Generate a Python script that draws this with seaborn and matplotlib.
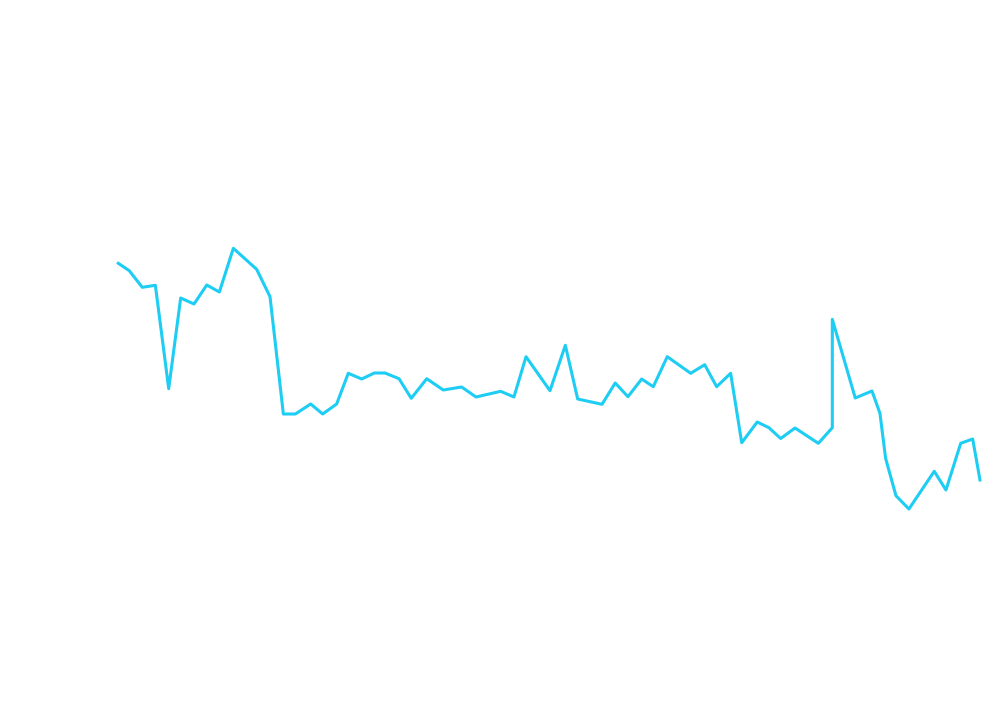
import numpy as np
import pandas as pd
from matplotlib import pyplot as plt
import seaborn as sns

# series (x = step index, y = value)
x = [0.0, 0.87, 1.90, 2.94, 4.00, 4.95, 6.01, 7.02, 8.02, 9.13,
     10.98, 12.04, 13.10, 14.05, 15.27, 16.22, 17.33, 18.25, 19.32, 20.32,
     21.17, 22.28, 23.25, 24.48, 25.79, 27.25, 28.39, 30.35, 31.40, 32.36,
     34.26, 35.48, 36.46, 38.39, 39.44, 40.45, 41.54, 42.46, 43.57, 45.43,
     46.54, 47.49, 48.60, 49.48, 50.71, 51.64, 52.57, 53.71, 55.56, 56.67,
     56.67, 58.49, 59.82, 60.45, 60.90, 61.72, 62.75, 64.76, 65.69, 66.86,
     67.81, 68.39]
y = [44.87, 44.13, 42.47, 42.67, 32.33, 41.40, 40.80, 42.70, 42.00, 46.37,
     44.27, 41.53, 29.80, 29.80, 30.80, 29.80, 30.80, 33.87, 33.30, 33.90,
     33.90, 33.33, 31.37, 33.33, 32.20, 32.50, 31.50, 32.07, 31.50, 35.53,
     32.13, 36.67, 31.30, 30.77, 32.90, 31.53, 33.30, 32.53, 35.53, 33.87,
     34.73, 32.53, 33.87, 26.93, 29.00, 28.43, 27.35, 28.40, 26.87, 28.43,
     39.27, 31.40, 32.10, 29.87, 25.37, 21.63, 20.30, 24.07, 22.20, 26.87,
     27.30, 23.20]

df = pd.DataFrame({"x": x, "y": y})

fig = plt.figure(figsize=(9.82, 7.12), dpi=100)
ax = fig.add_axes([0, 0, 1, 1])
sns.lineplot(data=df, x="x", y="y", sort=False, estimator=None,
             color="#1ecdf3", linewidth=2.2, ax=ax)
ax.set_xlim(-9.39, 68.55)
ax.set_ylim(0, 71.2)
ax.axis("off")
plt.savefig("out.png", dpi=100)
